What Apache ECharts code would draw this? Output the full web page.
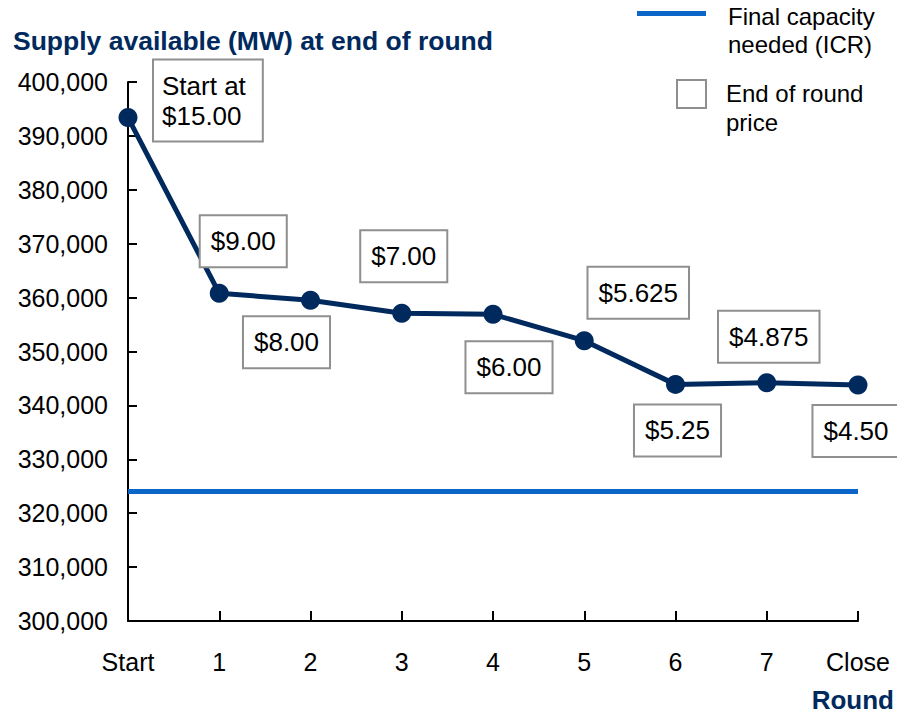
<!DOCTYPE html>
<html>
<head>
<meta charset="utf-8">
<script src="https://cdn.jsdelivr.net/npm/echarts@6/dist/echarts.min.js"></script>
<style>
  html, body { margin: 0; padding: 0; background: #fff; }
  #chart { width: 897px; height: 714px; }
</style>
</head>
<body>
<div id="chart"></div>
<script>
// Auction rounds and supply remaining at the end of each round (MW)
const rounds = ['Start', '1', '2', '3', '4', '5', '6', '7', 'Close'];
const supply = [393400, 360800, 359500, 357100, 356900, 352000, 343900, 344200, 343800];
// End-of-round clearing price for each round
const prices = ['Start at\n$15.00', '$9.00', '$8.00', '$7.00', '$6.00', '$5.625', '$5.25', '$4.875', '$4.50'];
// Final capacity needed (ICR), MW
const icr = 324100;
// Y axis range
const yMin = 300000, yMax = 400000, yStep = 10000;

// Where each price box sits relative to its point [dx, dy]
const labelOffsets = [[26, -17], [24, -52], [-24, 42], [2, -57], [16, 53], [54, -48], [2, 46], [2, -46], [-2, 46]];

const NAVY = '#002a5e';
const BLUE = '#0b66c8';
const FONT = '"Liberation Sans", Arial, sans-serif';

const chart = echarts.init(document.getElementById('chart'), null, { renderer: 'svg' });

const priceLabel = (i) => ({
  show: true,
  position: 'inside',
  offset: labelOffsets[i],
  align: i === 0 ? 'left' : 'center',
  verticalAlign: 'middle',
  formatter: () => prices[i],
  color: '#000',
  fontFamily: FONT,
  fontSize: 26,
  lineHeight: 30,
  backgroundColor: '#fff',
  borderColor: '#8f8f8f',
  borderWidth: 2,
  padding: i === 0 ? [10, 16, 10, 8] : [10, 10, 10, 10]
});

const option = {
  animation: false,
  backgroundColor: '#fff',
  textStyle: { fontFamily: FONT },
  title: {
    text: 'Supply available (MW) at end of round',
    left: 8,
    top: 22,
    textStyle: { color: NAVY, fontSize: 26.5, fontWeight: 'bold', fontFamily: FONT }
  },
  grid: { left: 128, right: 39, top: 82, bottom: 93, containLabel: false, outerBoundsMode: 'none' },
  xAxis: {
    type: 'category',
    data: rounds,
    boundaryGap: false,
    axisLine: { lineStyle: { color: '#000', width: 2 } },
    axisTick: { show: true, inside: true, length: 10, interval: 0, alignWithLabel: true, lineStyle: { color: '#000', width: 2 } },
    axisLabel: { color: '#000', fontSize: 25, fontFamily: FONT, margin: 28, interval: 0 },
    splitLine: { show: false }
  },
  yAxis: {
    type: 'value',
    min: yMin,
    max: yMax,
    interval: yStep,
    axisLine: { show: true, lineStyle: { color: '#000', width: 2 } },
    axisTick: { show: true, inside: true, length: 9, lineStyle: { color: '#000', width: 2 } },
    axisLabel: {
      color: '#000', fontSize: 25, fontFamily: FONT, margin: 20,
      formatter: (v) => v.toLocaleString('en-US')
    },
    splitLine: { show: false }
  },
  series: [
    {
      name: 'Final capacity needed (ICR)',
      type: 'line',
      data: [],
      markLine: {
        silent: true,
        symbol: 'none',
        label: { show: false },
        lineStyle: { color: BLUE, width: 5, type: 'solid' },
        data: [{ yAxis: icr }]
      },
      z: 1
    },
    {
      name: 'Supply available',
      type: 'line',
      data: supply.map((v, i) => ({ value: v, label: priceLabel(i) })),
      symbol: 'circle',
      symbolSize: 19,
      lineStyle: { color: NAVY, width: 5 },
      itemStyle: { color: NAVY },
      z: 3
    }
  ],
  graphic: [
    // X axis title
    {
      type: 'text', x: 894, y: 700,
      style: { text: 'Round', fill: NAVY, font: 'bold 26px ' + FONT, align: 'right', verticalAlign: 'middle' }
    },
    // Legend: ICR line
    { type: 'rect', shape: { x: 637, y: 11, width: 69, height: 5 }, style: { fill: BLUE } },
    {
      type: 'text', x: 728, y: 2,
      style: { text: 'Final capacity\nneeded (ICR)', fill: '#000', font: '24px ' + FONT, lineHeight: 28 }
    },
    // Legend: price box
    { type: 'rect', shape: { x: 677, y: 80, width: 29, height: 28 }, style: { fill: '#fff', stroke: '#8f8f8f', lineWidth: 2 } },
    {
      type: 'text', x: 726, y: 79,
      style: { text: 'End of round\nprice', fill: '#000', font: '24px ' + FONT, lineHeight: 29 }
    }
  ]
};

chart.setOption(option);
</script>
</body>
</html>
